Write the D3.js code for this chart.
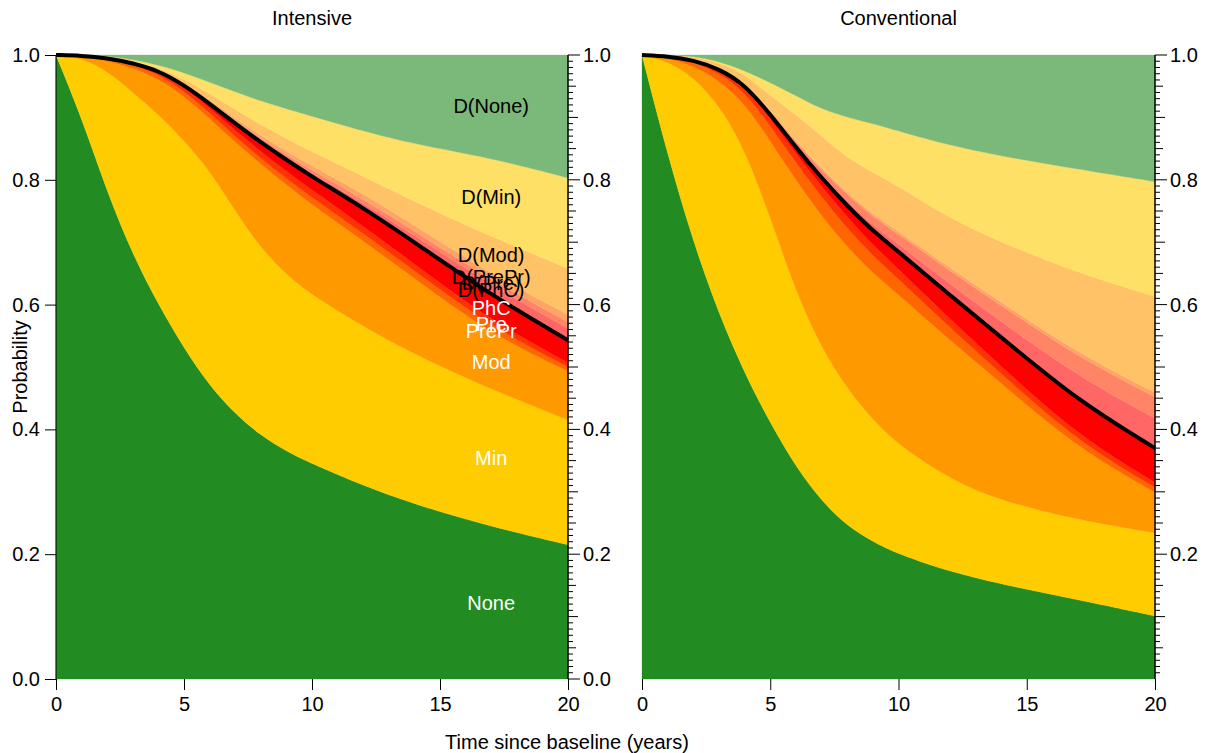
<!DOCTYPE html>
<html><head><meta charset="utf-8">
<script src="https://cdn.jsdelivr.net/npm/d3@7"></script>
<style>body{margin:0;background:#fff}text{font-family:"Liberation Sans",Arial,sans-serif}</style>
</head><body><svg id="c" width="1209" height="753"></svg>
<script>
// ---------- data ----------
const times = [0,1,2,3,4,5,6,7,8,9,10,12,14,17,20];
const states = ["None","Min","Mod","PrePr","Pre","PhC","D(PhC)","D(Pre)","D(PrePr)","D(Mod)","D(Min)","D(None)"];
const stateColors = ["#228B22","#FFCC00","#FF9900","#FF6600","#FF3300","#FF0000",
                     "#FF6666","#FF8566","#FFA366","#FFC266","#FFE066","#7AB97A"];
const panelTitles = ["Intensive","Conventional"];
const xTicks = [0,5,10,15,20];
const yTickLabels = ["0.0","0.2","0.4","0.6","0.8","1.0"];

// Intensive arm: state occupation probabilities
const intNone   = [1,0.90,0.78,0.68,0.60,0.53,0.47,0.425,0.39,0.365,0.345,0.31,0.28,0.244,0.215];
const intMin    = [0,0.095,0.195,0.26,0.305,0.333,0.345,0.325,0.30,0.283,0.27,0.255,0.24,0.22,0.20];
const intMod    = [0,0.003,0.016,0.039,0.057,0.071,0.083,0.11,0.135,0.144,0.145,0.137,0.122,0.088,0.078];
const intPrePr  = [0,0.001,0.003,0.005,0.007,0.008,0.009,0.009,0.009,0.01,0.011,0.012,0.012,0.012,0.007];
const intPre    = [0,0,0.001,0.002,0.004,0.006,0.008,0.01,0.011,0.012,0.012,0.012,0.011,0.010,0.007];
const intPhC    = [0,0,0,0.001,0.002,0.004,0.007,0.011,0.015,0.018,0.022,0.029,0.035,0.041,0.036];
const intDPhC   = [0,0,0,0,0,0.001,0.001,0.002,0.003,0.004,0.005,0.008,0.011,0.016,0.019];
const intDPre   = [0,0,0,0,0,0.001,0.002,0.003,0.003,0.004,0.005,0.006,0.007,0.008,0.01];
const intDPrePr = [0,0,0,0,0.001,0.002,0.003,0.004,0.005,0.006,0.007,0.009,0.009,0.010,0.012];
const intDMod   = [0,0.001,0.003,0.003,0.003,0.006,0.010,0.014,0.017,0.02,0.023,0.028,0.038,0.06,0.074];
const intDMin   = [0,0,0.001,0.003,0.005,0.01,0.018,0.028,0.038,0.048,0.057,0.072,0.092,0.126,0.145];
const intDNone  = [0,0,0.001,0.007,0.016,0.028,0.044,0.059,0.074,0.086,0.098,0.122,0.143,0.165,0.197];

// Conventional arm: state occupation probabilities
const conNone   = [1,0.84,0.70,0.585,0.49,0.41,0.34,0.285,0.245,0.22,0.2,0.172,0.152,0.127,0.101];
const conMin    = [0,0.15,0.265,0.335,0.36,0.33,0.28,0.245,0.22,0.195,0.175,0.148,0.133,0.128,0.133];
const conMod    = [0,0.005,0.018,0.039,0.073,0.122,0.179,0.212,0.227,0.235,0.241,0.223,0.189,0.114,0.065];
const conPrePr  = [0,0.002,0.006,0.012,0.018,0.024,0.028,0.03,0.03,0.028,0.025,0.02,0.015,0.011,0.008];
const conPre    = [0,0.001,0.002,0.005,0.008,0.012,0.015,0.017,0.018,0.017,0.016,0.014,0.012,0.0095,0.008];
const conPhC    = [0,0,0.001,0.002,0.004,0.007,0.01,0.014,0.018,0.023,0.028,0.038,0.047,0.056,0.055];
const conDPhC   = [0,0,0,0,0.001,0.002,0.003,0.005,0.007,0.009,0.012,0.018,0.025,0.0395,0.048];
const conDPre   = [0,0,0,0,0.001,0.003,0.005,0.008,0.011,0.014,0.016,0.021,0.026,0.031,0.034];
const conDPrePr = [0,0,0,0,0.001,0.002,0.002,0.003,0.003,0.004,0.004,0.005,0.005,0.006,0.007];
const conDMod   = [0,0.002,0.005,0.01,0.014,0.023,0.043,0.051,0.056,0.067,0.073,0.079,0.096,0.1285,0.154];
const conDMin   = [0,0,0.001,0.002,0.005,0.021,0.03,0.043,0.065,0.078,0.088,0.117,0.138,0.1665,0.184];
const conDNone  = [0,0,0.002,0.01,0.025,0.044,0.065,0.087,0.1,0.11,0.122,0.145,0.162,0.1835,0.203];

const labelTime = 17;

// ---------- build ----------
function rows(series){
  return times.map((t,i)=>{ const r={t}; states.forEach((s,j)=>r[s]=series[j][i]); return r; });
}
const panels = [
  {title:panelTitles[0], x0:56, x1:568, labels:true, zeroLabel:true,
   data:rows([intNone,intMin,intMod,intPrePr,intPre,intPhC,intDPhC,intDPre,intDPrePr,intDMod,intDMin,intDNone])},
  {title:panelTitles[1], x0:642, x1:1155, labels:false, zeroLabel:false,
   data:rows([conNone,conMin,conMod,conPrePr,conPre,conPhC,conDPhC,conDPre,conDPrePr,conDMod,conDMin,conDNone])}
];
const yTop = 55, yBot = 679;
const svg = d3.select("#c");
const FS = 20;
const y = d3.scaleLinear().domain([0,1]).range([yBot,yTop]);

panels.forEach((p,pi)=>{
  const x = d3.scaleLinear().domain([0,20]).range([p.x0,p.x1]);
  const stack = d3.stack().keys(states)(p.data);
  const area = d3.area().x(d=>x(d.data.t)).y0(d=>y(d[0])).y1(d=>y(Math.min(1,d[1]))).curve(d3.curveBasis);
  const g = svg.append("g");
  g.selectAll("path.layer").data(stack).join("path").attr("class","layer")
    .attr("d",area).attr("fill",(d,i)=>stateColors[i]).attr("stroke",(d,i)=>stateColors[i]).attr("stroke-width",0.3);
  // top fill so panel always reaches 1.0
  // alive total line
  const aliveIdx = states.indexOf("PhC");
  const line = d3.line().x(d=>x(d.data.t)).y(d=>y(d[1])).curve(d3.curveBasis);
  g.append("path").attr("d",line(stack[aliveIdx])).attr("fill","none").attr("stroke","#000").attr("stroke-width",4);

  // labels
  if(p.labels){
    const i = times.indexOf(labelTime);
    stack.forEach((layer,k)=>{
      const mid = (layer[i][0]+layer[i][1])/2;
      g.append("text").attr("x",x(labelTime)).attr("y",y(mid)).attr("dy","0.35em")
        .attr("text-anchor","middle").attr("font-size",FS)
        .attr("fill", k<6?"#fff":"#000").text(states[k]);
    });
  }

  // x axis
  const xa = svg.append("g").attr("transform",`translate(0,${yBot})`)
    .call(d3.axisBottom(x).tickValues(xTicks).tickSize(11).tickPadding(7).tickFormat(d3.format("d")));
  xa.select(".domain").remove();
  xa.selectAll("text").attr("font-size",FS).attr("fill","#000").style("font-family","Liberation Sans, Arial");
  xa.selectAll("line").attr("stroke","#000");

  // left axis (first panel only)
  if(pi===0){
    const ya = svg.append("g").attr("transform",`translate(${p.x0},0)`)
      .call(d3.axisLeft(y).tickValues([0,0.2,0.4,0.6,0.8,1]).tickSize(11).tickPadding(5).tickFormat((d,i)=>yTickLabels[i]));
    ya.select(".domain").attr("stroke","#000").attr("d",`M0,${yBot}V${yTop}`);
    ya.selectAll("text").attr("font-size",FS).attr("fill","#000").style("font-family","Liberation Sans, Arial");
  }
  // right axis with fine ticks
  const ra = svg.append("g").attr("transform",`translate(${p.x1},0)`);
  ra.append("line").attr("x1",0).attr("x2",0).attr("y1",yBot).attr("y2",yTop).attr("stroke","#000").attr("stroke-width",1.5);
  const startK = p.zeroLabel?0:1;
  const fine = d3.range(startK,101).map(k=>k/100);
  ra.selectAll("line.t").data(fine).join("line").attr("class","t")
    .attr("x1",0).attr("y1",d=>y(d)).attr("y2",d=>y(d))
    .attr("x2",(d)=>{const k=Math.round(d*100); return k%20===0?12:(k%10===0?10:(k%5===0?8:5));})
    .attr("stroke","#000").attr("stroke-width",1);
  const majors = [0,0.2,0.4,0.6,0.8,1].filter(v=>p.zeroLabel||v>0);
  ra.selectAll("text").data(majors).join("text")
    .attr("x",15).attr("y",d=>y(d)).attr("dy","0.35em").attr("font-size",FS)
    .text(d=>yTickLabels[Math.round(d*5)]);

  // title
  svg.append("text").attr("x",(p.x0+p.x1)/2).attr("y",25).attr("text-anchor","middle")
    .attr("font-size",FS).text(p.title);
});

svg.append("text").attr("x",567).attr("y",749).attr("text-anchor","middle").attr("font-size",FS)
  .text("Time since baseline (years)");
svg.append("text").attr("transform","translate(27,367) rotate(-90)").attr("text-anchor","middle")
  .attr("font-size",FS).text("Probability");
</script></body></html>
